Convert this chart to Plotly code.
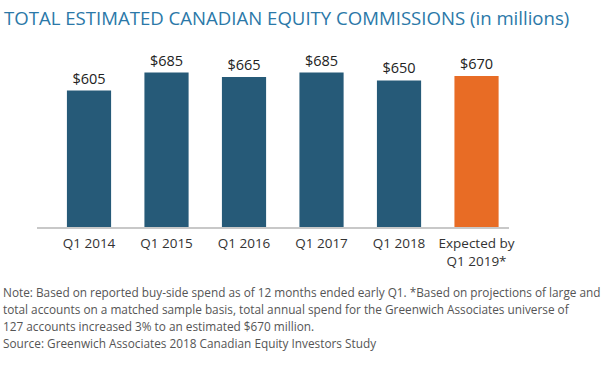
import plotly.graph_objects as go

categories = ["Q1 2014", "Q1 2015", "Q1 2016", "Q1 2017", "Q1 2018", "Expected by<br>Q1 2019*"]
values = [605, 685, 665, 685, 650, 670]
value_labels = ["$605", "$685", "$665", "$685", "$650", "$670"]
bar_colors = ["#265a78", "#265a78", "#265a78", "#265a78", "#265a78", "#e86c25"]

title_text = "TOTAL ESTIMATED CANADIAN EQUITY COMMISSIONS (in millions)"
note_lines = [
    "Note: Based on reported buy-side spend as of 12 months ended early Q1. *Based on projections of large and",
    "total accounts on a matched sample basis, total annual spend for the Greenwich Associates universe of",
    "127 accounts increased 3% to an estimated $670 million.",
    "Source: Greenwich Associates 2018 Canadian Equity Investors Study",
]

FONT = "Open Sans"
PL, PT, PW, PH = 37, 50, 472, 177  # plot area in pixels


def px_y(y):
    return 1 - (y - PT) / PH


def px_x(x):
    return (x - PL) / PW


fig = go.Figure(go.Bar(
    x=list(range(len(categories))),
    y=values,
    marker=dict(color=bar_colors, line=dict(width=0)),
    width=0.57,
    text=value_labels,
    textposition="outside",
    textfont=dict(family=FONT, size=14.5, color="#222222"),
    cliponaxis=False,
    hoverinfo="skip",
))

annotations = [
    dict(text=title_text, xref="paper", yref="paper", x=px_x(2), y=px_y(17),
         xanchor="left", yanchor="middle", showarrow=False,
         font=dict(family=FONT, size=18.6, color="#2b78a8")),
]
for i, line in enumerate(note_lines):
    annotations.append(dict(
        text=line, xref="paper", yref="paper", x=px_x(1), y=px_y(292 + 17 * i),
        xanchor="left", yanchor="middle", showarrow=False, align="left",
        font=dict(family=FONT, size=11.8, color="#555555")))

fig.update_layout(
    width=609, height=365,
    margin=dict(l=PL, r=609 - PL - PW, t=PT, b=365 - PT - PH, autoexpand=False),
    paper_bgcolor="white", plot_bgcolor="white",
    showlegend=False,
    xaxis=dict(
        range=[-0.671, 5.419],
        tickmode="array",
        tickvals=list(range(len(categories))),
        ticktext=categories,
        showgrid=False, zeroline=False,
        showline=True, linecolor="#c8c8c8", linewidth=1.5,
        ticks="", ticklen=0, ticklabelstandoff=3,
        tickfont=dict(family=FONT, size=13.5, color="#333333"),
        automargin=False,
        fixedrange=True,
    ),
    yaxis=dict(
        range=[0, 785],
        visible=False,
        showgrid=False, zeroline=False,
        automargin=False,
        fixedrange=True,
    ),
    annotations=annotations,
)

fig.write_html("out.html", config={"displayModeBar": False},
               post_script="document.body.style.margin='0';")
